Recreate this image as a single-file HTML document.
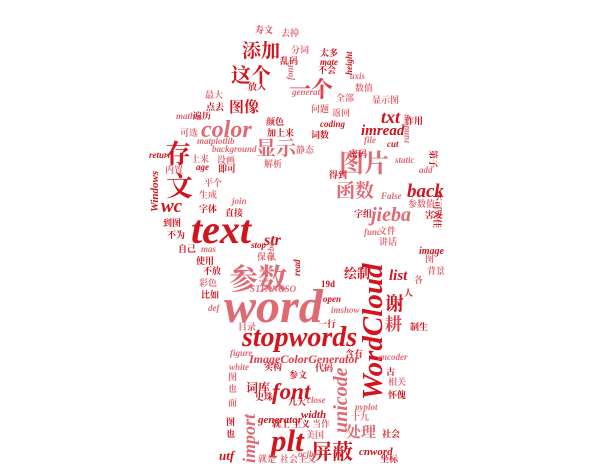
<!DOCTYPE html>
<html><head><meta charset="utf-8"><style>
html,body{margin:0;padding:0;background:#fff;}
svg{display:block;}
.l{font-family:"Liberation Serif",serif;font-style:italic;font-weight:bold;}
.c{font-family:"Liberation Serif","Noto Serif CJK SC",serif;font-weight:bold;}
.r{fill:#d3131d;}
.p{fill:#e06a74;}
.m{fill:#e03a48;}
</style></head><body>
<svg width="602" height="473" viewBox="0 0 602 473">
<g>
<text class="c r" x="242" y="57" font-size="19">添加</text>
<text class="c r" x="231" y="82" font-size="20">这个</text>
<text class="c m" x="289" y="97" font-size="22">一个</text>
<text class="c r" x="229" y="112" font-size="15">图像</text>
<text class="l p" x="201" y="137" font-size="24">color</text>
<text class="c p" x="256" y="155" font-size="20">显示</text>
<text class="c p" x="339" y="172" font-size="25">图片</text>
<text class="c p" x="336" y="197" font-size="19">函数</text>
<text class="l r" x="381" y="123" font-size="18">txt</text>
<text class="l r" x="361" y="135" font-size="15">imread</text>
<text class="l r" x="407" y="197" font-size="19">back</text>
<text class="l p" x="371" y="221" font-size="20">jieba</text>
<text class="l r" x="161" y="212" font-size="19">wc</text>
<text class="l r" x="191" y="243" font-size="40">text</text>
<text class="c r" x="165" y="163" font-size="26">存</text>
<text class="c r" x="166" y="196" font-size="27">文</text>
<text class="l r" x="264" y="245" font-size="16">str</text>
<text class="c p" x="229" y="289" font-size="29">参数</text>
<text class="l p" x="224" y="322" font-size="48">word</text>
<text class="l r" x="242" y="346" font-size="28">stopwords</text>
<text class="l r" x="382" y="400" font-size="29" transform="rotate(-90 382 400)">WordCloud</text>
<text class="l m" x="249" y="363" font-size="12">ImageColorGenerator</text>
<text class="l r" x="272" y="399" font-size="23">font</text>
<text class="c r" x="246" y="392" font-size="12">词库</text>
<text class="l p" x="347" y="433" font-size="20" transform="rotate(-90 347 433)">unicode</text>
<text class="l p" x="255" y="463" font-size="18" transform="rotate(-90 255 463)">import</text>
<text class="l r" x="271" y="451" font-size="31">plt</text>
<text class="c r" x="311" y="459" font-size="21">屏蔽</text>
<text class="c p" x="346" y="437" font-size="15">处理</text>
<text class="l r" x="389" y="280" font-size="15">list</text>
<text class="c r" x="344" y="278" font-size="13">绘制</text>
<text class="l r" x="219" y="460" font-size="13">utf</text>
<text class="l r" x="359" y="455" font-size="11">cnword</text>
<text class="l r" x="258" y="423" font-size="11">generator</text>
<text class="l r" x="301" y="418" font-size="11">width</text>
<text class="l r" x="419" y="254" font-size="10">image</text>
<text class="c r" x="385" y="310" font-size="19">谢</text>
<text class="c m" x="385" y="330" font-size="17">耕</text>
<text class="l r" x="158" y="212" font-size="11" transform="rotate(-90 158 212)">Windows</text>
<text class="l r" x="208" y="62" font-size="13" transform="rotate(-90 208 62)"></text>
</g>
<g font-size="9">
<text class="c m" x="255" y="33">寿文</text><text class="c p" x="281" y="36">去掉</text>
<text class="c p" x="291" y="53">分词</text><text class="c r" x="280" y="64">乱码</text>
<text class="c r" x="248" y="90">放入</text><text class="c p" x="205" y="98">最大</text>
<text class="c r" x="206" y="110">点去</text><text class="l p" x="176" y="119">math</text>
<text class="c r" x="193" y="119">遍历</text><text class="c p" x="180" y="136">可选</text>
<text class="l p" x="197" y="144">matplotlib</text><text class="l p" x="212" y="152">background</text>
<text class="c r" x="266" y="125">颜色</text><text class="c r" x="267" y="136">加上来</text>
<text class="c p" x="264" y="167">解析</text><text class="c p" x="296" y="153">静态</text>
<text class="l r" x="320" y="127">coding</text><text class="c r" x="311" y="138">词数</text>
<text class="c p" x="311" y="112">问题</text><text class="c p" x="332" y="116">返回</text>
<text class="c p" x="336" y="101">全部</text><text class="l p" x="292" y="95">generate</text>
<text class="c r" x="320" y="56">太多</text><text class="l r" x="320" y="65">mate</text>
<text class="c r" x="318" y="73">不会</text><text class="l p" x="350" y="79">axis</text>
<text class="c p" x="355" y="91">数值</text><text class="c p" x="372" y="103">显示图</text>
<text class="c r" x="405" y="124">作用</text><text class="l r" x="387" y="147">cut</text>
<text class="l p" x="364" y="143">file</text><text class="l p" x="395" y="163">static</text>
<text class="l p" x="419" y="173">add</text><text class="l p" x="381" y="199">False</text>
<text class="c p" x="408" y="207">参数值</text><text class="c r" x="425" y="218">害妥</text>
<text class="l p" x="364" y="235">func</text><text class="c p" x="378" y="234">文件</text>
<text class="c p" x="379" y="245">讲话</text><text class="c r" x="329" y="178">得到</text>
<text class="c r" x="349" y="157">密码</text><text class="c r" x="354" y="217">字组</text>
<text class="l r" x="149" y="158">return</text><text class="c p" x="191" y="162">上来</text>
<text class="c p" x="217" y="163">设画</text><text class="c p" x="165" y="173">内置</text>
<text class="l r" x="196" y="170">age</text><text class="c r" x="218" y="172">即可</text>
<text class="c p" x="204" y="186">平个</text><text class="c p" x="199" y="198">生成</text>
<text class="c r" x="199" y="212">字体</text><text class="l p" x="232" y="204">join</text>
<text class="c r" x="163" y="226">到图</text><text class="c r" x="167" y="238">不为</text>
<text class="c r" x="225" y="216">直接</text><text class="c r" x="178" y="252">自己</text>
<text class="l p" x="201" y="252">mas</text><text class="c r" x="196" y="264">使用</text>
<text class="c r" x="203" y="274">不放</text><text class="c p" x="199" y="286">彩色</text>
<text class="c r" x="201" y="298">比如</text><text class="l p" x="208" y="311">def</text>
<text class="l r" x="251" y="248">stop</text><text class="c p" x="257" y="260">保存</text>
<text class="l p" x="250" y="292">STFANGSO</text><text class="c p" x="238" y="330">目录</text>
<text class="l r" x="323" y="302">open</text><text class="l p" x="331" y="313">imshow</text>
<text class="c r" x="321" y="287">19d</text><text class="c r" x="318" y="327">一行</text>
<text class="l p" x="230" y="356">figure</text><text class="l p" x="229" y="370">white</text>
<text class="c r" x="264" y="370">实构</text><text class="c r" x="289" y="378">参文</text>
<text class="c r" x="315" y="371">代码</text><text class="c r" x="345" y="357">含有</text>
<text class="c r" x="255" y="400">史珠</text><text class="c r" x="288" y="405">九大</text>
<text class="l p" x="307" y="403">close</text><text class="l p" x="355" y="410">pyplot</text>
<text class="c p" x="351" y="420">十九</text><text class="c r" x="272" y="427">就上</text>
<text class="c r" x="292" y="427">主义</text><text class="c p" x="312" y="427">当作</text>
<text class="c p" x="306" y="438">美国</text><text class="l p" x="298" y="457">ocjby</text>
<text class="c p" x="258" y="462">就是</text><text class="c p" x="280" y="462">社会主义</text>
<text class="c r" x="380" y="462">坐标</text><text class="c r" x="382" y="437">社会</text>
<text class="l p" x="378" y="360">encoder</text><text class="c r" x="386" y="375">古</text>
<text class="c p" x="388" y="385">相关</text><text class="c r" x="388" y="398">怀傀</text>
<text class="c p" x="228" y="380">图</text><text class="c p" x="228" y="392">也</text>
<text class="c p" x="228" y="406">面</text><text class="c r" x="226" y="425">图</text><text class="c r" x="226" y="437">也</text>
<text class="c p" x="425" y="262">图</text><text class="c p" x="427" y="274">背景</text>
<text class="c p" x="414" y="283">各</text><text class="c r" x="404" y="296">人</text><text class="c r" x="410" y="330">制生</text>
</g>
<g font-size="9">
<text class="l r" x="208" y="80" transform="rotate(-90 208 80)"></text>
<text class="l r" x="352" y="75" transform="rotate(-90 352 75)">height</text>
<text class="l p" x="293" y="80" transform="rotate(-90 293 80)">font</text>
<text class="l p" x="274" y="260" transform="rotate(-90 274 260)">jieba</text>
<text class="l r" x="300" y="276" transform="rotate(-90 300 276)">read</text>
<text class="l p" x="409" y="143" transform="rotate(-90 409 143)">random</text>
<text class="c r" x="434" y="192" transform="rotate(90 434 192)">不可大佳</text>
<text class="c r" x="430" y="150" transform="rotate(90 430 150)">第子</text>
</g>
</svg>
</body></html>
